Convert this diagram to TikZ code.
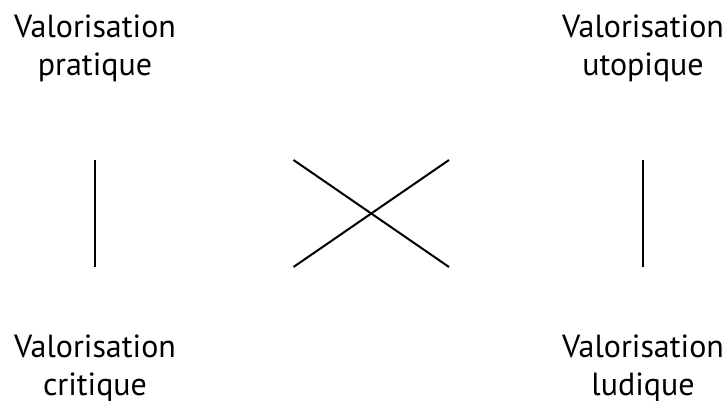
\documentclass[tikz,border=0pt]{standalone}
\usepackage{fontspec}
\setmainfont{PT Sans}
\begin{document}
\begin{tikzpicture}[x=1pt,y=-1pt,
  lbl/.style={align=center,font=\fontsize{32}{38}\selectfont,inner sep=0pt},
  ln/.style={line width=2pt}]
\useasboundingbox (0,0) rectangle (728,401);
\node[lbl] (pr) at (95,48) {Valorisation\\pratique};
\node[lbl] (ut) at (643,48) {Valorisation\\utopique};
\node[lbl] (cr) at (95,368) {Valorisation\\critique};
\node[lbl] (lu) at (643,368) {Valorisation\\ludique};
\coordinate (a1) at (94.5,160);
\coordinate (a2) at (94.5,267);
\coordinate (b1) at (643,160);
\coordinate (b2) at (643,267);
\coordinate (x1) at (293.5,160);
\coordinate (x2) at (449,267);
\coordinate (x3) at (293.5,267);
\coordinate (x4) at (449,160);
\draw[ln] (a1) -- (a2);
\draw[ln] (b1) -- (b2);
\draw[ln] (x1) -- (x2);
\draw[ln] (x3) -- (x4);
\end{tikzpicture}
\end{document}
